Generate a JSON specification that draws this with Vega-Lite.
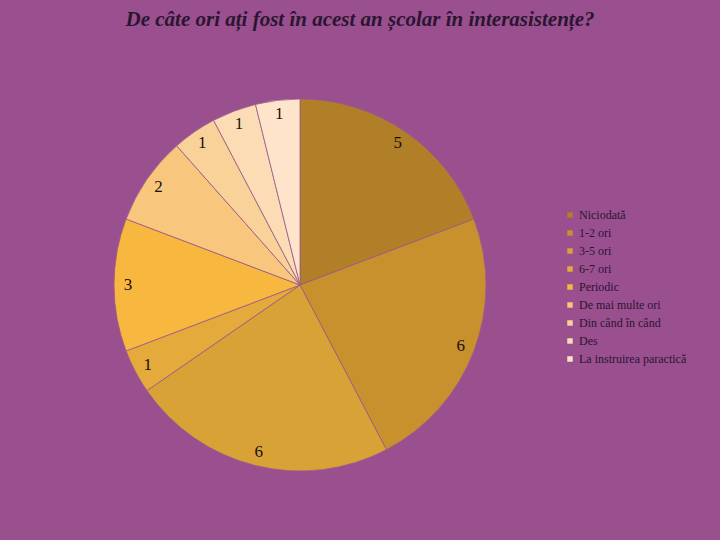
{
  "$schema": "https://vega.github.io/schema/vega-lite/v6.json",
  "autosize": {"type": "none"},
  "width": 600,
  "height": 470,
  "padding": {"left": 0, "top": 50, "right": 120, "bottom": 20},
  "background": "#9a4f8f",
  "config": {"view": {"stroke": null}},
  "title": {
    "text": "De câte ori ați fost în acest an școlar în interasistențe?",
    "font": "Liberation Serif",
    "fontStyle": "italic",
    "fontWeight": "bold",
    "fontSize": 21,
    "color": "#2a1630",
    "anchor": "middle",
    "frame": "group",
    "dx": 60,
    "offset": 20
  },
  "data": {
    "values": [
      {"categorie": "Niciodată", "valoare": 5, "ordine": 1},
      {"categorie": "1-2 ori", "valoare": 6, "ordine": 2},
      {"categorie": "3-5 ori", "valoare": 6, "ordine": 3},
      {"categorie": "6-7 ori", "valoare": 1, "ordine": 4},
      {"categorie": "Periodic", "valoare": 3, "ordine": 5},
      {"categorie": "De mai multe ori", "valoare": 2, "ordine": 6},
      {"categorie": "Din când în când", "valoare": 1, "ordine": 7},
      {"categorie": "Des", "valoare": 1, "ordine": 8},
      {"categorie": "La instruirea paractică", "valoare": 1, "ordine": 9}
    ]
  },
  "encoding": {
    "theta": {"field": "valoare", "type": "quantitative", "stack": true},
    "order": {"field": "ordine", "type": "quantitative"},
    "color": {
      "field": "categorie",
      "type": "nominal",
      "sort": null,
      "scale": {
        "domain": ["Niciodată", "1-2 ori", "3-5 ori", "6-7 ori", "Periodic", "De mai multe ori", "Din când în când", "Des", "La instruirea paractică"],
        "range": ["#b07f27", "#c8912e", "#d9a236", "#e4aa3b", "#f8b73f", "#f8c67c", "#f9d29a", "#fbdcb4", "#fde4ca"]
      },
      "legend": {
        "title": null,
        "orient": "none",
        "legendX": 564,
        "legendY": 159,
        "symbolType": "square",
        "symbolSize": 30,
        "symbolStrokeWidth": 0,
        "labelFont": "Liberation Serif",
        "labelFontSize": 12,
        "labelColor": "#2a1630",
        "rowPadding": 6,
        "labelOffset": 3
      }
    }
  },
  "layer": [
    {
      "mark": {"type": "arc", "outerRadius": 186, "stroke": "#9a5a8c", "strokeWidth": 0.8}
    },
    {
      "mark": {"type": "text", "radius": 172, "font": "Liberation Serif", "fontSize": 17, "color": "#1a1010"},
      "encoding": {
        "text": {"field": "valoare", "type": "quantitative"},
        "color": {"value": "#1a1010"}
      }
    }
  ]
}
